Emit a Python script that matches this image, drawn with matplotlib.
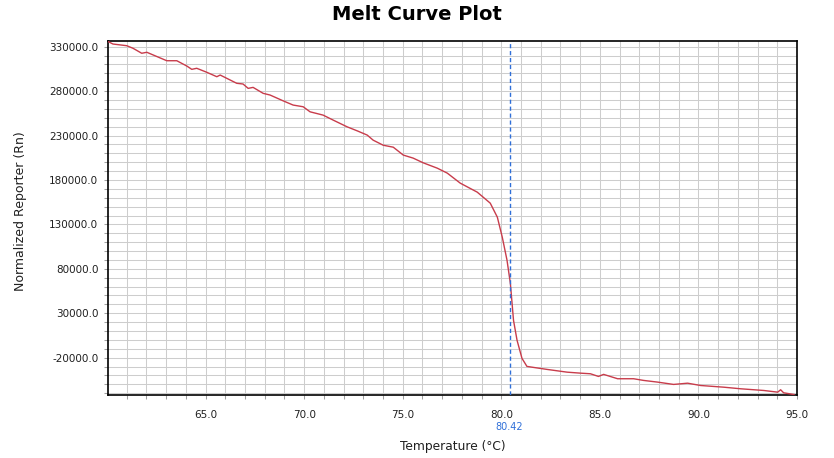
import matplotlib
matplotlib.use("Agg")
import matplotlib.pyplot as plt
from matplotlib.ticker import MultipleLocator, FormatStrFormatter

# melt curve
temps = [60.07, 60.30, 61.00, 61.32, 61.76, 62.02, 63.03, 63.54, 64.05, 64.30,
         64.55, 65.06, 65.57, 65.74, 66.58, 66.90, 67.16, 67.41, 67.92, 68.27,
         68.93, 69.44, 69.95, 70.30, 70.96, 71.47, 72.18, 72.69, 73.20, 73.50,
         74.01, 74.52, 75.03, 75.53, 76.04, 76.75, 77.26, 77.92, 78.78, 79.44,
         79.80, 80.05, 80.29, 80.46, 80.62, 80.80, 81.05, 81.30, 81.62, 82.32,
         83.34, 84.01, 84.52, 84.93, 85.19, 85.90, 86.71, 87.22, 87.93, 88.74,
         89.45, 90.11, 91.28, 92.14, 93.31, 94.02, 94.17, 94.32, 94.85]
rn = [335600, 333000, 331100, 328200, 322600, 323700, 314200, 314200, 308200, 304500,
      305700, 301200, 296200, 298100, 288800, 288000, 283100, 284200, 277500, 275600,
      269100, 264300, 262400, 256700, 253000, 247400, 239800, 235300, 230500, 224800,
      219100, 216900, 208000, 204600, 199300, 193300, 187700, 176400, 166300, 153900,
      138100, 115600, 89700, 63700, 22000, -500, -20800, -29800, -30900, -33200,
      -36300, -37400, -38100, -41100, -38800, -43700, -43700, -45600, -47500, -50100,
      -48700, -51300, -53200, -55000, -56900, -58800, -56100, -59500, -61500]
tm = 80.42

fig = plt.figure(figsize=(8.34, 4.58), dpi=100)
ax = fig.add_axes([108 / 834, 63 / 458, 689 / 834, 354 / 458])

ax.plot(temps, rn, color="#c83c4b", linewidth=1.0, zorder=3)
ax.axvline(tm, color="#2f6fd8", linestyle=(0, (3, 2)), linewidth=1.0, zorder=4)

ax.set_xlim(60.05, 95.0)
ax.set_ylim(-62000, 336400)

ax.xaxis.set_major_locator(MultipleLocator(5))
ax.xaxis.set_minor_locator(MultipleLocator(1))
ax.yaxis.set_major_locator(MultipleLocator(50000, offset=-20000))
ax.yaxis.set_minor_locator(MultipleLocator(10000))
ax.xaxis.set_major_formatter(FormatStrFormatter("%.1f"))
ax.yaxis.set_major_formatter(FormatStrFormatter("%.1f"))

ax.grid(True, which="both", color="#cdcdcd", linewidth=0.75, zorder=0)
ax.set_axisbelow(True)
ax.tick_params(which="both", direction="out", length=3, width=0.75, color="#a0a0a0",
               labelsize=7.5, labelcolor="#202020")
ax.tick_params(axis="x", which="both", pad=8)
ax.tick_params(axis="y", which="both", pad=4)
for s in ax.spines.values():
    s.set_color("black")
    s.set_linewidth(1.2)

ax.text(tm, -0.09, f"{tm:.2f}", transform=ax.get_xaxis_transform(),
        ha="center", va="center", fontsize=7, color="#2f6fd8")

ax.set_xlabel("Temperature (°C)", fontsize=8.8, labelpad=14, color="#202020")
ax.set_ylabel("Normalized Reporter (Rn)", fontsize=9, color="#202020")
ax.yaxis.set_label_coords(-0.117, 0.52)
fig.text(0.5, 1 - 14 / 458, "Melt Curve Plot",
         ha="center", va="center", fontsize=14, fontweight="bold")

fig.savefig("out.png", dpi=100)
